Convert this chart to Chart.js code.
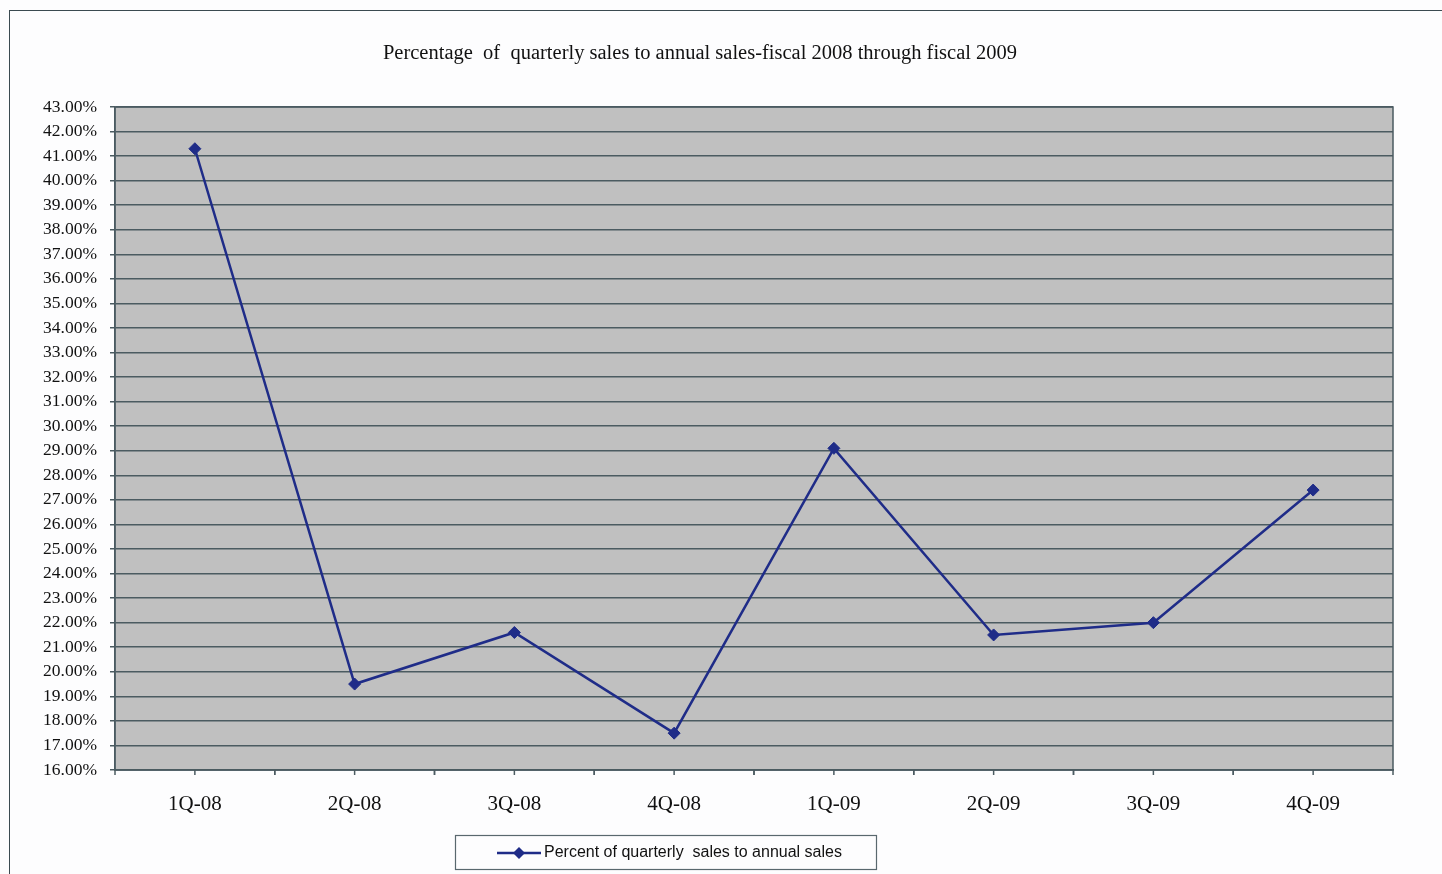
<!DOCTYPE html>
<html>
<head>
<meta charset="utf-8">
<script src="https://cdn.jsdelivr.net/npm/chart.js@4.4.1/dist/chart.umd.min.js"></script>
<style>
  html, body { margin: 0; padding: 0; background: #fdfdfe; }
  #wrap { position: relative; width: 1442px; height: 874px; overflow: hidden; }
  #frame { position: absolute; left: 9px; top: 10px; width: 1450px; height: 900px;
           border-left: 1px solid #3b4a50; border-top: 1px solid #3b4a50; box-sizing: border-box; }
  canvas { position: absolute; left: 0; top: 0; }
</style>
</head>
<body>
<div id="wrap">
  <div id="frame"></div>
  <canvas id="c" width="1442" height="874"></canvas>
</div>
<script>
const titleText = 'Percentage  of  quarterly sales to annual sales-fiscal 2008 through fiscal 2009';
const quarters = ['1Q-08', '2Q-08', '3Q-08', '4Q-08', '1Q-09', '2Q-09', '3Q-09', '4Q-09'];
const seriesName = 'Percent of quarterly  sales to annual sales';
const percentOfAnnual = [41.3, 19.5, 21.6, 17.5, 29.1, 21.5, 22.0, 27.4];
const yMin = 16, yMax = 43, yStep = 1;

const lineColor = '#1f2c88';
const gridColor = '#4b5b61';
const serif = '"Liberation Serif", "Times New Roman", serif';

// Title, plot frame, half-category tick marks and the boxed legend
const decor = {
  id: 'decor',
  beforeDatasetsDraw(chart) {
    const { ctx, chartArea: a } = chart;
    ctx.save();
    ctx.strokeStyle = gridColor;
    ctx.lineWidth = 1.5;
    ctx.strokeRect(a.left, a.top, a.right - a.left, a.bottom - a.top);
    ctx.restore();
  },
  afterDraw(chart) {
    const { ctx, chartArea: a } = chart;
    const x = chart.scales.x;
    ctx.save();
    // title
    ctx.fillStyle = '#111';
    ctx.font = '20.5px ' + serif;
    ctx.textAlign = 'center';
    ctx.textBaseline = 'middle';
    ctx.fillText(titleText, 700, 54);

    // tick marks at category centres and boundaries
    ctx.strokeStyle = gridColor;
    ctx.lineWidth = 1.5;
    const n = quarters.length;
    const half = (x.getPixelForValue(1) - x.getPixelForValue(0)) / 2;
    for (let i = 0; i < n; i++) {
      const cx = x.getPixelForValue(i);
      [cx - half, cx, cx + half].forEach(px => {
        ctx.beginPath();
        ctx.moveTo(px, a.bottom);
        ctx.lineTo(px, a.bottom + 5);
        ctx.stroke();
      });
    }

    // legend box
    const bx = 455, by = 835, bw = 421, bh = 34;
    ctx.fillStyle = '#fdfdfe';
    ctx.fillRect(bx, by, bw, bh);
    ctx.strokeStyle = '#59686e';
    ctx.lineWidth = 1.2;
    ctx.strokeRect(bx + 0.5, by + 0.5, bw, bh);
    const ly = by + 18;
    ctx.strokeStyle = lineColor;
    ctx.lineWidth = 2.5;
    ctx.beginPath();
    ctx.moveTo(497, ly);
    ctx.lineTo(541, ly);
    ctx.stroke();
    ctx.fillStyle = lineColor;
    ctx.beginPath();
    ctx.moveTo(519, ly - 6);
    ctx.lineTo(525, ly);
    ctx.lineTo(519, ly + 6);
    ctx.lineTo(513, ly);
    ctx.closePath();
    ctx.fill();
    ctx.fillStyle = '#111';
    ctx.font = '16px "Liberation Sans", Arial, sans-serif';
    ctx.textAlign = 'left';
    ctx.textBaseline = 'middle';
    ctx.fillText(seriesName, 544, ly);
    ctx.restore();
  }
};

const plotBg = {
  id: 'plotBg',
  beforeDraw(chart) {
    const { ctx, chartArea: a } = chart;
    ctx.save();
    ctx.fillStyle = '#c0c0c0';
    ctx.fillRect(a.left, a.top, a.right - a.left, a.bottom - a.top);
    ctx.restore();
  }
};

new Chart(document.getElementById('c'), {
  type: 'line',
  data: {
    labels: quarters,
    datasets: [{
      label: seriesName,
      data: percentOfAnnual,
      borderColor: lineColor,
      backgroundColor: lineColor,
      borderWidth: 2.5,
      tension: 0,
      pointStyle: 'rectRot',
      pointRadius: 6,
      pointHoverRadius: 6,
      pointBackgroundColor: lineColor,
      pointBorderColor: lineColor,
      pointBorderWidth: 1
    }]
  },
  options: {
    responsive: false,
    animation: false,
    devicePixelRatio: 1,
    layout: { padding: { top: 107, right: 49, bottom: 0, left: 0 } },
    plugins: {
      legend: { display: false },
      title: { display: false },
      tooltip: { enabled: false }
    },
    scales: {
      x: {
        offset: true,
        afterFit(s) { s.height = 104; },
        grid: { display: false, drawOnChartArea: false },
        border: { display: true, color: gridColor, width: 1.5 },
        ticks: {
          color: '#111',
          padding: 14,
          font: { family: serif, size: 21 }
        }
      },
      y: {
        min: yMin,
        max: yMax,
        afterFit(s) { s.width = 115; },
        afterBuildTicks(s) {
          const t = [];
          for (let v = yMin; v <= yMax + 1e-9; v += yStep) t.push({ value: v });
          s.ticks = t;
        },
        grid: {
          color: gridColor,
          lineWidth: 1.5,
          drawTicks: true,
          tickLength: 5,
          tickColor: gridColor
        },
        border: { display: true, color: gridColor, width: 1.5 },
        ticks: {
          color: '#111',
          padding: 13,
          autoSkip: false,
          font: { family: serif, size: 17.5 },
          callback: v => v.toFixed(2) + '%'
        }
      }
    }
  },
  plugins: [plotBg, decor]
});
</script>
</body>
</html>
